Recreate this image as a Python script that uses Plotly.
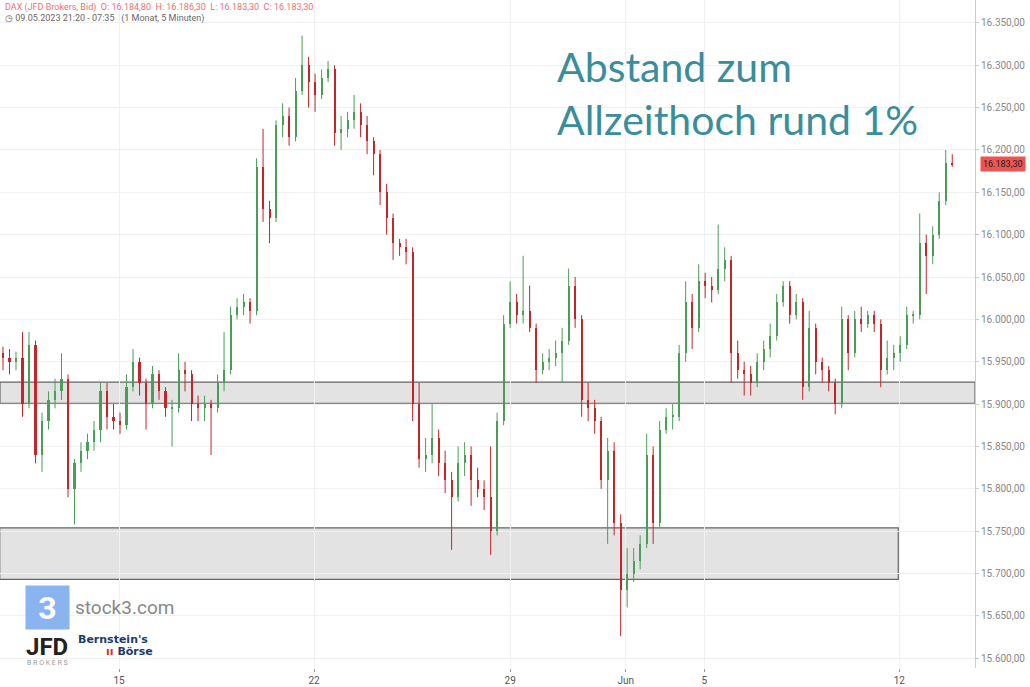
import plotly.graph_objects as go

# DAX 5-Minuten-Kerzen (zusammengefasst, ca. 6 pro Handelstag)
closes = [15955, 15950, 15955, 15900, 15970, 15840, 15880, 15905, 15915, 15930,
          15800, 15830, 15845, 15855, 15870, 15915, 15885, 15880, 15875, 15920,
          15950, 15925, 15900, 15935, 15915, 15895, 15895, 15940, 15935, 15900,
          15895, 15900, 15895, 15925, 15940, 16005, 16015, 16020, 16010, 16180,
          16130, 16120, 16230, 16240, 16215, 16270, 16300, 16280, 16265, 16285,
          16295, 16220, 16225, 16235, 16245, 16230, 16210, 16195, 16150, 16120,
          16090, 16085, 16080, 15900, 15835, 15840, 15860, 15830, 15810, 15790,
          15830, 15840, 15810, 15800, 15790, 15750, 15880, 15995, 16020, 16005,
          16010, 15990, 15940, 15950, 15955, 15960, 15975, 16040, 16000, 15905,
          15895, 15880, 15810, 15845, 15760, 15680, 15700, 15715, 15735, 15840,
          15760, 15870, 15885, 15885, 15960, 16020, 15990, 16045, 16040, 16035,
          16060, 16070, 15960, 15940, 15935, 15925, 15950, 15965, 15980, 16020,
          16040, 16005, 16020, 15920, 15990, 15950, 15940, 15925, 15900, 16000,
          15960, 16000, 15995, 16005, 15995, 15940, 15955, 15960, 15970, 16005,
          16005, 16090, 16075, 16100, 16140, 16185, 16183.3]
highs = [15968, 15965, 15962, 15985, 15985, 15975, 15890, 15915, 15930, 15960,
         15935, 15835, 15855, 15865, 15880, 15925, 15925, 15900, 15890, 15935,
         15965, 15955, 15930, 15945, 15940, 15920, 15905, 15960, 15950, 15940,
         15910, 15910, 15905, 15935, 15985, 16015, 16025, 16030, 16025, 16190,
         16225, 16140, 16235, 16255, 16250, 16285, 16335, 16310, 16290, 16295,
         16305, 16300, 16240, 16245, 16265, 16255, 16240, 16215, 16200, 16160,
         16125, 16095, 16095, 16085, 15925, 15860, 15900, 15870, 15845, 15820,
         15850, 15855, 15850, 15825, 15810, 15850, 15890, 16005, 16045, 16030,
         16075, 16040, 15995, 15960, 15965, 15975, 15990, 16060, 16050, 16005,
         15925, 15905, 15885, 15860, 15855, 15770, 15730, 15730, 15745, 15865,
         15850, 15880, 15895, 15900, 15970, 16045, 16030, 16065, 16055, 16050,
         16112, 16085, 16075, 15975, 15950, 15945, 15960, 15975, 15995, 16030,
         16045, 16045, 16030, 16025, 16010, 15995, 15955, 15945, 15930, 16015,
         16005, 16010, 16015, 16010, 16010, 16000, 15975, 15970, 15980, 16015,
         16010, 16125, 16100, 16110, 16150, 16200, 16195]
lows = [15940, 15935, 15940, 15885, 15895, 15830, 15820, 15870, 15895, 15905,
        15790, 15758, 15820, 15835, 15845, 15855, 15870, 15870, 15865, 15870,
        15915, 15910, 15870, 15895, 15905, 15885, 15850, 15890, 15915, 15880,
        15880, 15880, 15840, 15890, 15915, 15935, 16000, 16005, 15995, 16005,
        16115, 16090, 16115, 16215, 16205, 16210, 16265, 16250, 16245, 16260,
        16280, 16205, 16200, 16215, 16225, 16215, 16195, 16170, 16135, 16100,
        16070, 16075, 16065, 15880, 15825, 15820, 15830, 15815, 15795, 15728,
        15785, 15815, 15780, 15790, 15775, 15722, 15745, 15875, 15990, 15995,
        15995, 15985, 15925, 15935, 15940, 15945, 15925, 15970, 15990, 15885,
        15880, 15865, 15800, 15735, 15745, 15626, 15660, 15690, 15705, 15730,
        15735, 15755, 15865, 15870, 15880, 15950, 15965, 15985, 16025, 16020,
        16030, 16045, 15925, 15930, 15910, 15910, 15920, 15940, 15955, 15975,
        16015, 15995, 16000, 15905, 15915, 15935, 15925, 15915, 15888, 15895,
        15940, 15955, 15985, 15990, 15985, 15920, 15935, 15940, 15950, 15965,
        15995, 16000, 16030, 16065, 16095, 16135, 16180]
opens = [15960] + closes[:-1]
idx = list(range(len(closes)))

x_tick_pos = [17.85, 47.85, 78, 95.8, 107.85, 137.85]
x_tick_text = ["15", "22", "29", "Jun", "5", "12"]
y_ticks = [15600, 15650, 15700, 15750, 15800, 15850, 15900, 15950,
           16000, 16050, 16100, 16150, 16200, 16250, 16300, 16350]
y_tick_text = [f"{v // 1000}.{v % 1000:03d},00" for v in y_ticks]

UP, DOWN = "#4a9e58", "#c3262c"
fig = go.Figure()

# Dochte: je Richtung eine Linien-Spur
for color, pick in [(UP, lambda o, c: c >= o), (DOWN, lambda o, c: c < o)]:
    wx, wy = [], []
    for i, o, h, l, c in zip(idx, opens, highs, lows, closes):
        if pick(o, c):
            wx += [i, i, None]
            wy += [l, h, None]
    fig.add_trace(go.Scatter(x=wx, y=wy, mode="lines", line=dict(color=color, width=1),
                             hoverinfo="skip", showlegend=False))

# Kerzenkörper
body_colors = [UP if c >= o else DOWN for o, c in zip(opens, closes)]
fig.add_trace(go.Bar(x=idx, y=[max(abs(c - o), 1.5) for o, c in zip(opens, closes)],
                     base=[min(o, c) for o, c in zip(opens, closes)], width=0.32,
                     marker=dict(color=body_colors, line=dict(width=0)), showlegend=False))

# Unterstützungszonen
fig.add_shape(type="rect", xref="paper", x0=0, x1=1, y0=15901, y1=15926,
              fillcolor="rgba(200,200,200,0.5)", line=dict(color="#666", width=1.2), layer="below")
fig.add_shape(type="rect", x0=-0.5, x1=137.7, y0=15693, y1=15754,
              fillcolor="rgba(200,200,200,0.5)", line=dict(color="#666", width=1.2), layer="below")

fig.add_annotation(xref="paper", yref="paper", x=0.569, y=0.94, xanchor="left", yanchor="top",
                   text="Abstand zum<br>Allzeithoch rund 1%", align="left", showarrow=False,
                   font=dict(family="Lato", size=41, color="#3a8d9b"))
fig.add_annotation(xref="paper", yref="paper", x=0.003, y=1.0, xanchor="left", yanchor="top",
                   text="DAX (JFD Brokers, Bid)  O: 16.184,80  H: 16.186,30  L: 16.183,30  C: 16.183,30",
                   showarrow=False, font=dict(family="Roboto", size=9, color="#f07070"))
fig.add_annotation(xref="paper", yref="paper", x=0.003, y=0.983, xanchor="left", yanchor="top",
                   text="◷ 09.05.2023 21:20 - 07:35   (1 Monat, 5 Minuten)",
                   showarrow=False, font=dict(family="Roboto", size=9, color="#666"))
# Kursmarke
fig.add_annotation(xref="paper", x=1.005, y=16183.3, xanchor="left", text="16.183,30",
                   showarrow=False, bgcolor="#ef5350", font=dict(family="Roboto", size=9, color="#222"),
                   borderpad=2)
# Logos
fig.add_annotation(xref="paper", yref="paper", x=0.0487, y=0.0906, xanchor="center", yanchor="middle",
                   text="<b>3</b>", showarrow=False, width=41, height=41, bgcolor="#8ab4f0",
                   font=dict(family="Roboto", size=32, color="white"))
fig.add_annotation(xref="paper", yref="paper", x=0.075, y=0.09, xanchor="left", yanchor="middle",
                   text="stock3.com", showarrow=False, font=dict(family="Roboto", size=19, color="#888"))
fig.add_annotation(xref="paper", yref="paper", x=0.025, y=0.032, xanchor="left", yanchor="middle",
                   text="<b>JFD</b>", showarrow=False,
                   font=dict(family="Roboto", size=24, color="#222"))
fig.add_annotation(xref="paper", yref="paper", x=0.026, y=0.008, xanchor="left", yanchor="middle",
                   text="B R O K E R S", showarrow=False,
                   font=dict(family="Roboto", size=7, color="#999"))
fig.add_annotation(xref="paper", yref="paper", x=0.078, y=0.042, xanchor="left", yanchor="middle",
                   text="<b>Bernstein's</b>", showarrow=False,
                   font=dict(family="DejaVu Sans", size=11, color="#1c3b6a"))
fig.add_annotation(xref="paper", yref="paper", x=0.107, y=0.024, xanchor="left", yanchor="middle",
                   text="<b><span style='color:#d03030'>ıı</span> Börse</b>", showarrow=False,
                   font=dict(family="DejaVu Sans", size=11, color="#1c3b6a"))

fig.update_layout(
    width=1030, height=687, margin=dict(l=0, r=55, t=0, b=19, autoexpand=False),
    plot_bgcolor="white", paper_bgcolor="white", bargap=0,
    xaxis=dict(range=[-0.46, 149.5], tickvals=x_tick_pos, ticktext=x_tick_text,
               showgrid=True, gridcolor="#f0f0f0",
               tickfont=dict(family="Roboto", size=10, color="#555"), ticks="outside",
               ticklen=3, tickcolor="#999", zeroline=False),
    yaxis=dict(range=[15588.5, 16377], side="right", tickvals=y_ticks, ticktext=y_tick_text,
               showgrid=True, gridcolor="#f0f0f0", showline=True, linecolor="#ccc",
               tickfont=dict(family="Roboto", size=10, color="#888"), ticks="outside",
               ticklen=3, tickcolor="#ccc", zeroline=False),
)

fig.write_html("out.html", config={"displayModeBar": False},
               post_script="document.body.style.margin='0';")
